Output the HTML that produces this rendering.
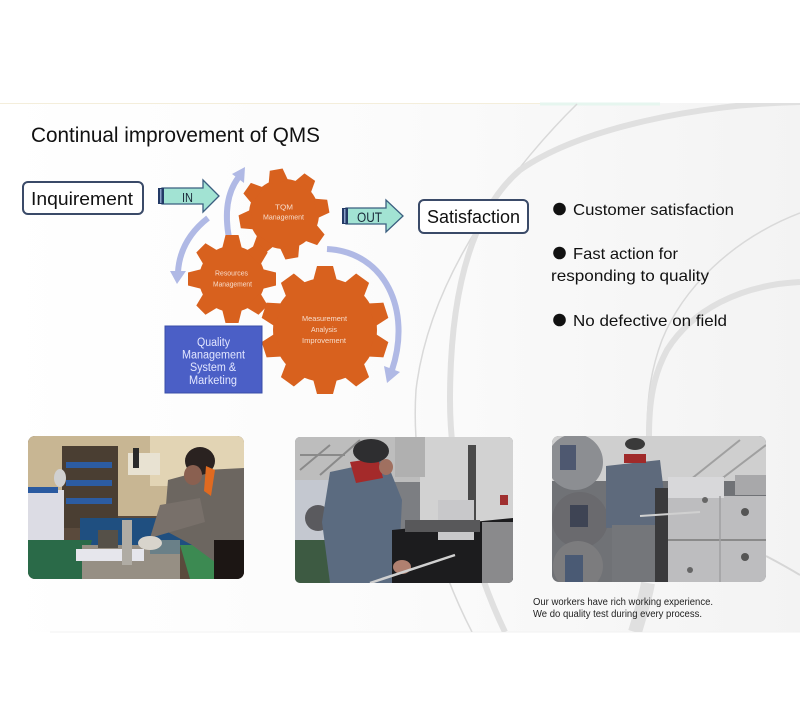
<!DOCTYPE html>
<html><head><meta charset="utf-8"><style>
html,body{margin:0;padding:0;background:#fff;}
svg{display:block;}
text{font-family:"Liberation Sans",Arial,sans-serif;}
</style></head><body>
<svg width="800" height="720" viewBox="0 0 800 720" xmlns="http://www.w3.org/2000/svg">
<defs>
<linearGradient id="bg" x1="0" y1="0" x2="1" y2="0">
<stop offset="0" stop-color="#ffffff"/><stop offset="0.5" stop-color="#fbfbfb"/><stop offset="1" stop-color="#f3f3f3"/>
</linearGradient>
<clipPath id="c1"><rect x="28" y="436" width="216" height="143" rx="7"/></clipPath>
<clipPath id="c2"><rect x="295" y="437" width="218" height="146" rx="5"/></clipPath>
<clipPath id="c3"><rect x="552" y="436" width="214" height="146" rx="7"/></clipPath>
<clipPath id="slide"><rect x="0" y="103" width="800" height="529"/></clipPath>
</defs>
<rect x="0" y="0" width="800" height="720" fill="#fff"/>
<rect x="0" y="103" width="800" height="529" fill="url(#bg)"/>
<line x1="0" y1="103.5" x2="560" y2="103.5" stroke="#f4eedb" stroke-width="1"/>
<line x1="540" y1="104" x2="660" y2="104" stroke="#e6f6ef" stroke-width="3"/>
<line x1="50" y1="632" x2="800" y2="632" stroke="#f2f2f2" stroke-width="1"/>

<g clip-path="url(#slide)" fill="none">
<path d="M577,104 C520,160 430,270 416,390 C410,480 440,570 472,632" stroke="#d9d9d9" stroke-width="1.5"/>
<path d="M800,102 C700,104 580,128 520,170 C468,215 450,300 450,400 C450,480 475,570 505,632" stroke="#e0e0e0" stroke-width="6"/>
<path d="M800,213 C730,240 682,290 662,340 C650,372 647,400 647,436" stroke="#d9d9d9" stroke-width="1.5"/>
<path d="M800,282 C740,285 692,310 667,350 C653,376 649,402 649,436" stroke="#e0e0e0" stroke-width="6"/>
<path d="M648,583 C645,600 640,615 635,632" stroke="#e0e0e0" stroke-width="14"/>
<path d="M766,556 Q785,566 800,575" stroke="#d6d6d6" stroke-width="2"/>
</g>

<!-- Title -->
<text x="31" y="142" font-size="21" fill="#111" textLength="289" lengthAdjust="spacingAndGlyphs">Continual improvement of QMS</text>

<!-- Inquirement box -->
<rect x="23" y="182" width="120" height="32" rx="5" fill="#fff" stroke="#3a4a68" stroke-width="2"/>
<text x="31" y="205" font-size="18" fill="#111" textLength="102" lengthAdjust="spacingAndGlyphs">Inquirement</text>

<!-- IN arrow -->
<polygon points="162,188 203,188 203,180 219,196 203,212 203,204 162,204" fill="#a2e3d3" stroke="#3b5f80" stroke-width="1.3"/>
<rect x="158" y="188" width="6" height="16" fill="#233a66"/>
<rect x="160" y="189" width="1.5" height="14" fill="#8aa0c8"/>
<text x="182" y="202" font-size="13" fill="#1a2a3a" textLength="11" lengthAdjust="spacingAndGlyphs">IN</text>

<!-- OUT arrow -->
<polygon points="346,208 386,208 386,200 403,216 386,232 386,224 346,224" fill="#a2e3d3" stroke="#3b5f80" stroke-width="1.3"/>
<rect x="342" y="208" width="6" height="16" fill="#233a66"/>
<rect x="344" y="209" width="1.5" height="14" fill="#8aa0c8"/>
<text x="357" y="222" font-size="14" fill="#1a2a3a" textLength="25" lengthAdjust="spacingAndGlyphs">OUT</text>

<!-- Satisfaction box -->
<rect x="419" y="200" width="109" height="33" rx="5" fill="#fff" stroke="#3a4a68" stroke-width="2"/>
<text x="427" y="223" font-size="18" fill="#111" textLength="93" lengthAdjust="spacingAndGlyphs">Satisfaction</text>

<!-- light blue cycle arrows -->
<g fill="none" stroke="#b0b9e5" stroke-width="6" stroke-linecap="butt">
<path d="M229,238 Q222,200 238,178"/>
<path d="M208,218 Q180,240 178,272"/>
<path d="M327,249 C385,252 412,310 392,370"/>
</g>
<polygon points="245,167 244,183 232,174" fill="#b0b9e5"/>
<polygon points="177,284 186,271 170,271" fill="#b0b9e5"/>
<polygon points="387,383 400,372 384,366" fill="#b0b9e5"/>

<!-- Gears -->
<g fill="#d8611e">
<g transform="translate(284,214)">
<circle r="35"/>
<g id="t8a"><polygon points="-10,-32 10,-32 6.5,-45 -6.5,-45" transform="rotate(-10)"/></g>
<polygon points="-10,-32 10,-32 6.5,-45 -6.5,-45" transform="rotate(35)"/>
<polygon points="-10,-32 10,-32 6.5,-45 -6.5,-45" transform="rotate(80)"/>
<polygon points="-10,-32 10,-32 6.5,-45 -6.5,-45" transform="rotate(125)"/>
<polygon points="-10,-32 10,-32 6.5,-45 -6.5,-45" transform="rotate(170)"/>
<polygon points="-10,-32 10,-32 6.5,-45 -6.5,-45" transform="rotate(215)"/>
<polygon points="-10,-32 10,-32 6.5,-45 -6.5,-45" transform="rotate(260)"/>
<polygon points="-10,-32 10,-32 6.5,-45 -6.5,-45" transform="rotate(305)"/>
</g>
<g transform="translate(232,279)">
<circle r="33"/>
<polygon points="-10,-30 10,-30 6.5,-44 -6.5,-44" transform="rotate(0)"/>
<polygon points="-10,-30 10,-30 6.5,-44 -6.5,-44" transform="rotate(45)"/>
<polygon points="-10,-30 10,-30 6.5,-44 -6.5,-44" transform="rotate(90)"/>
<polygon points="-10,-30 10,-30 6.5,-44 -6.5,-44" transform="rotate(135)"/>
<polygon points="-10,-30 10,-30 6.5,-44 -6.5,-44" transform="rotate(180)"/>
<polygon points="-10,-30 10,-30 6.5,-44 -6.5,-44" transform="rotate(225)"/>
<polygon points="-10,-30 10,-30 6.5,-44 -6.5,-44" transform="rotate(270)"/>
<polygon points="-10,-30 10,-30 6.5,-44 -6.5,-44" transform="rotate(315)"/>
</g>
<g transform="translate(325,330)">
<circle r="52"/>
<polygon points="-12,-49 12,-49 8,-64 -8,-64" transform="rotate(0)"/>
<polygon points="-12,-49 12,-49 8,-64 -8,-64" transform="rotate(36)"/>
<polygon points="-12,-49 12,-49 8,-64 -8,-64" transform="rotate(72)"/>
<polygon points="-12,-49 12,-49 8,-64 -8,-64" transform="rotate(108)"/>
<polygon points="-12,-49 12,-49 8,-64 -8,-64" transform="rotate(144)"/>
<polygon points="-12,-49 12,-49 8,-64 -8,-64" transform="rotate(180)"/>
<polygon points="-12,-49 12,-49 8,-64 -8,-64" transform="rotate(216)"/>
<polygon points="-12,-49 12,-49 8,-64 -8,-64" transform="rotate(252)"/>
<polygon points="-12,-49 12,-49 8,-64 -8,-64" transform="rotate(288)"/>
<polygon points="-12,-49 12,-49 8,-64 -8,-64" transform="rotate(324)"/>
</g>
</g>
<g fill="#f7dccb" font-size="7">
<text x="275" y="209.5" textLength="18" lengthAdjust="spacingAndGlyphs">TQM</text>
<text x="263" y="219.5" textLength="41" lengthAdjust="spacingAndGlyphs">Management</text>
<text x="215" y="275.5" textLength="33" lengthAdjust="spacingAndGlyphs">Resources</text>
<text x="213" y="286.5" textLength="39" lengthAdjust="spacingAndGlyphs">Management</text>
<text x="302" y="321" font-size="7.5" textLength="45" lengthAdjust="spacingAndGlyphs">Measurement</text>
<text x="311" y="332" font-size="7.5" textLength="26" lengthAdjust="spacingAndGlyphs">Analysis</text>
<text x="302" y="343" font-size="7.5" textLength="44" lengthAdjust="spacingAndGlyphs">Improvement</text>
</g>

<!-- Blue box -->
<rect x="165" y="326" width="97" height="67" fill="#4b5fc6" stroke="#3a4ea8" stroke-width="1"/>
<g fill="#e2e6ff" font-size="11.5">
<text x="197" y="346" textLength="33" lengthAdjust="spacingAndGlyphs">Quality</text>
<text x="182" y="358.5" textLength="63" lengthAdjust="spacingAndGlyphs">Management</text>
<text x="190" y="371" textLength="46" lengthAdjust="spacingAndGlyphs">System &amp;</text>
<text x="189" y="384" textLength="48" lengthAdjust="spacingAndGlyphs">Marketing</text>
</g>

<!-- Bullets -->
<g fill="#111">
<circle cx="559.5" cy="209" r="6.3"/>
<circle cx="559.5" cy="253" r="6.3"/>
<circle cx="559.5" cy="320" r="6.3"/>
</g>
<g fill="#111" font-size="16">
<text x="573" y="215" textLength="161" lengthAdjust="spacingAndGlyphs">Customer satisfaction</text>
<text x="573" y="259" textLength="105" lengthAdjust="spacingAndGlyphs">Fast action for</text>
<text x="551" y="281" textLength="158" lengthAdjust="spacingAndGlyphs">responding to quality</text>
<text x="573" y="326" textLength="154" lengthAdjust="spacingAndGlyphs">No defective on field</text>
</g>

<!-- Photo 1 -->
<g clip-path="url(#c1)">
<rect x="28" y="436" width="216" height="143" fill="#5a4a3c"/>
<rect x="28" y="436" width="216" height="80" fill="#c8b693"/>
<rect x="150" y="436" width="94" height="50" fill="#e2d4b4"/>
<rect x="128" y="453" width="32" height="22" fill="#e8e2d2"/>
<rect x="62" y="446" width="56" height="82" fill="#4a3e32"/>
<rect x="66" y="462" width="46" height="6" fill="#2c5ca2"/>
<rect x="66" y="480" width="46" height="6" fill="#2c5ca2"/>
<rect x="66" y="498" width="46" height="6" fill="#2c5ca2"/>
<rect x="28" y="490" width="36" height="52" fill="#dcdce4"/>
<rect x="28" y="487" width="30" height="6" fill="#2a5aa0"/>
<ellipse cx="60" cy="478" rx="6" ry="9" fill="#d0d0d0"/>
<rect x="80" y="518" width="120" height="28" fill="#1f4f80"/>
<polygon points="28,540 92,540 82,579 28,579" fill="#2a6a48"/>
<polygon points="180,545 214,545 214,579 190,579" fill="#3c8a52"/>
<rect x="82" y="545" width="98" height="34" fill="#968f84"/>
<rect x="76" y="549" width="68" height="12" fill="#e6e6ec"/>
<rect x="98" y="530" width="20" height="18" fill="#555048"/>
<rect x="122" y="520" width="10" height="45" fill="#b0aca4"/>
<rect x="150" y="540" width="30" height="14" fill="#6a8088"/>
<polygon points="168,480 205,470 244,468 244,556 215,562 192,545 164,530" fill="#6c6660"/>
<polygon points="160,505 200,498 205,522 150,538" fill="#78706a"/>
<ellipse cx="150" cy="543" rx="12" ry="7" fill="#d8d4cc"/>
<ellipse cx="200" cy="461" rx="15" ry="14" fill="#2a2220"/>
<ellipse cx="193" cy="475" rx="9" ry="10" fill="#8a6050"/>
<polygon points="206,466 215,470 211,496 204,491" fill="#e06a20"/>
<rect x="214" y="540" width="30" height="39" fill="#1c1614"/>
<rect x="133" y="448" width="6" height="20" fill="#2a2a2a"/>
</g>

<!-- Photo 2 -->
<g clip-path="url(#c2)">
<rect x="295" y="437" width="218" height="146" fill="#7c7e82"/>
<rect x="295" y="437" width="218" height="45" fill="#bdbdbd"/>
<path d="M300,470 L330,445 M320,475 L360,440 M300,455 L345,455" stroke="#8a8a8a" stroke-width="2"/>
<rect x="420" y="437" width="93" height="92" fill="#d2d2d2"/>
<rect x="395" y="437" width="30" height="40" fill="#b0b0b0"/>
<rect x="468" y="445" width="8" height="85" fill="#4a4a4a"/>
<rect x="500" y="495" width="8" height="10" fill="#a03030"/>
<rect x="295" y="480" width="42" height="62" fill="#c4c8d0"/>
<circle cx="318" cy="518" r="13" fill="#5a5a5e"/>
<rect x="295" y="540" width="42" height="43" fill="#3d5a42"/>
<polygon points="330,472 386,460 402,500 398,583 330,583 322,522" fill="#5b6b80"/>
<polygon points="350,462 378,458 383,478 356,483" fill="#a42a2a"/>
<ellipse cx="371" cy="451" rx="18" ry="12" fill="#2e2e30"/>
<ellipse cx="386" cy="467" rx="7" ry="8" fill="#a07060"/>
<polygon points="392,530 513,518 513,583 392,583" fill="#1c1c1e"/>
<rect x="438" y="500" width="36" height="40" fill="#c8c8ca"/>
<rect x="405" y="520" width="75" height="12" fill="#58585a"/>
<ellipse cx="402" cy="567" rx="9" ry="7" fill="#b08070"/>
<line x1="370" y1="583" x2="455" y2="555" stroke="#d0d0d0" stroke-width="2.5"/>
<rect x="482" y="522" width="31" height="61" fill="#8a8a8c"/>
</g>

<!-- Photo 3 -->
<g clip-path="url(#c3)">
<rect x="552" y="436" width="214" height="146" fill="#707276"/>
<rect x="552" y="436" width="214" height="45" fill="#cfcfcf"/>
<path d="M690,480 L740,440 M720,480 L766,445" stroke="#a0a0a0" stroke-width="2"/>
<circle cx="575" cy="462" r="28" fill="#8c8e92"/>
<circle cx="580" cy="520" r="28" fill="#6a6a6e"/>
<circle cx="578" cy="566" r="25" fill="#7c7c7e"/>
<rect x="560" y="445" width="16" height="25" fill="#4e5870"/>
<rect x="570" y="505" width="18" height="22" fill="#3e4454"/>
<rect x="565" y="555" width="18" height="27" fill="#4a5a74"/>
<polygon points="606,466 660,460 668,526 606,528" fill="#5e6a7c"/>
<rect x="624" y="454" width="22" height="9" fill="#a02a2a"/>
<ellipse cx="635" cy="444" rx="10" ry="6" fill="#3a3a3a"/>
<rect x="612" y="525" width="46" height="57" fill="#74767a"/>
<rect x="655" y="488" width="16" height="94" fill="#3a3a3c"/>
<rect x="668" y="496" width="98" height="86" fill="#bdbdbf"/>
<rect x="668" y="477" width="56" height="21" fill="#d8d8da"/>
<rect x="735" y="475" width="31" height="20" fill="#a8a8aa"/>
<line x1="668" y1="540" x2="766" y2="540" stroke="#8a8a8a" stroke-width="2"/>
<line x1="720" y1="496" x2="720" y2="582" stroke="#a0a0a2" stroke-width="1.5"/>
<circle cx="745" cy="512" r="4" fill="#555"/>
<circle cx="745" cy="557" r="4" fill="#555"/>
<circle cx="705" cy="500" r="3" fill="#666"/>
<circle cx="690" cy="570" r="3" fill="#666"/>
<line x1="640" y1="516" x2="700" y2="512" stroke="#d0d0d0" stroke-width="2"/>
</g>

<!-- Caption -->
<g fill="#222" font-size="10">
<text x="533" y="605" textLength="180" lengthAdjust="spacingAndGlyphs">Our workers have rich working experience.</text>
<text x="533" y="617" textLength="169" lengthAdjust="spacingAndGlyphs">We do quality test during every process.</text>
</g>
</svg>
</body></html>
